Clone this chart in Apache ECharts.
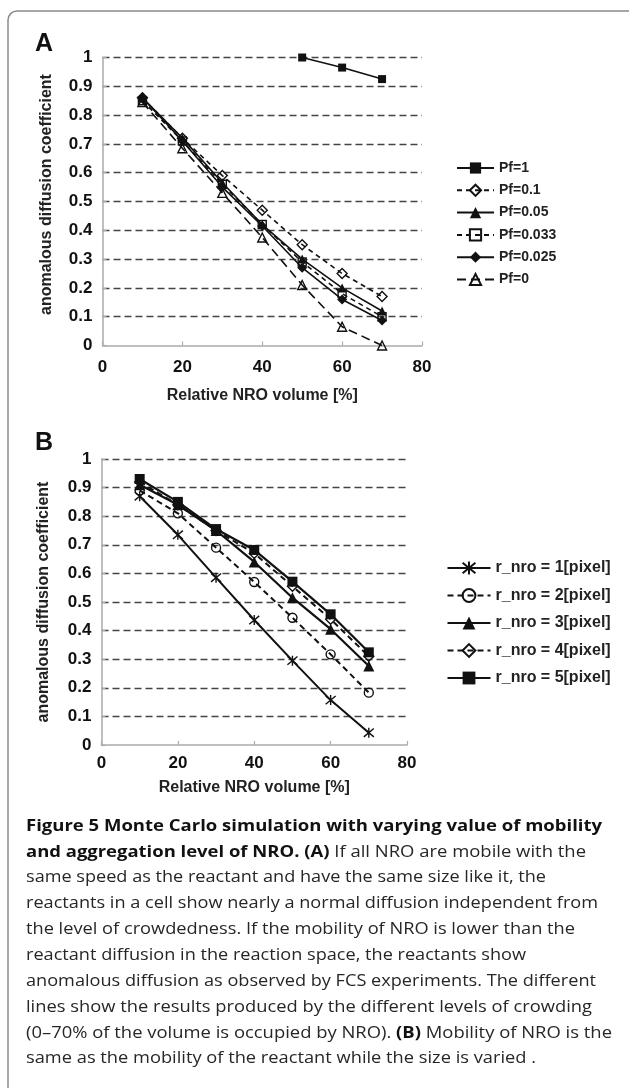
<!DOCTYPE html>
<html>
<head>
<meta charset="utf-8">
<script src="https://cdn.jsdelivr.net/npm/echarts@6/dist/echarts.min.js"></script>
<style>
html,body{margin:0;padding:0;background:#fff}
#c{width:629px;height:1088px}
</style>
</head>
<body>
<div id="c"></div>
<script>
// ---------------- DATA ----------------
const volume = [10, 20, 30, 40, 50, 60, 70];

// Panel A
const pfNames = ['Pf=1', 'Pf=0.1', 'Pf=0.05', 'Pf=0.033', 'Pf=0.025', 'Pf=0'];
const pf1     = [null, null, null, null, 1.0, 0.965, 0.925];
const pf01    = [0.86, 0.72, 0.59, 0.47, 0.35, 0.25, 0.17];
const pf005   = [0.86, 0.72, 0.565, 0.42, 0.30, 0.20, 0.12];
const pf0033  = [0.85, 0.71, 0.56, 0.42, 0.29, 0.18, 0.10];
const pf0025  = [0.86, 0.71, 0.55, 0.415, 0.27, 0.16, 0.087];
const pf0     = [0.845, 0.685, 0.53, 0.375, 0.21, 0.065, 0.0];

// Panel B
const rNames = ['r_nro = 1[pixel]', 'r_nro = 2[pixel]', 'r_nro = 3[pixel]', 'r_nro = 4[pixel]', 'r_nro = 5[pixel]'];
const r1 = [0.87, 0.735, 0.585, 0.437, 0.295, 0.157, 0.043];
const r2 = [0.89, 0.81, 0.69, 0.57, 0.445, 0.317, 0.183];
const r3 = [0.91, 0.84, 0.75, 0.64, 0.515, 0.405, 0.276];
const r4 = [0.92, 0.84, 0.75, 0.67, 0.555, 0.44, 0.31];
const r5 = [0.93, 0.85, 0.755, 0.682, 0.571, 0.457, 0.324];

// Axis texts
const xAxisTitle = 'Relative NRO volume [%]';
const yAxisTitle = 'anomalous diffusion coefficient';
const panelLetters = ['A', 'B'];

// Caption
const captionLines = [
  '{b|Figure 5 Monte Carlo simulation with varying value of mobility}',
  '{b|and aggregation level of NRO. (A)} If all NRO are mobile with the',
  'same speed as the reactant and have the same size like it, the',
  'reactants in a cell show nearly a normal diffusion independent from',
  'the level of crowdedness. If the mobility of NRO is lower than the',
  'reactant diffusion in the reaction space, the reactants show',
  'anomalous diffusion as observed by FCS experiments. The different',
  'lines show the results produced by the different levels of crowding',
  '(0\u201370% of the volume is occupied by NRO). {b|(B)} Mobility of NRO is the',
  'same as the mobility of the reactant while the size is varied .'
];

// ---------------- LAYOUT / STYLE ----------------
const captionWidths = [576, 560, 520, 572, 549, 500, 570, 566, 586, 510];
const FONT = '"Liberation Sans", Arial, Helvetica, sans-serif';
const CAP_FONT = '"Open Sans", sans-serif';
const CAP_SIZE = 16.8;
const INK = '#111';

function pairs(vals) {
  const out = [];
  vals.forEach((v, i) => { if (v !== null) out.push([volume[i], v]); });
  return out;
}

const asterisk = 'path://M0,0L10,10M10,0L0,10M5,-1L5,11';

function mkSeries(name, vals, grid, symbol, open, dash, size, width) {
  return {
    name: name,
    type: 'line',
    xAxisIndex: grid, yAxisIndex: grid,
    data: pairs(vals),
    symbol: symbol,
    symbolSize: size,
    showAllSymbol: true,
    animation: false,
    lineStyle: { color: INK, width: width, type: dash ? dash : 'solid' },
    itemStyle: open
      ? { color: 'rgba(255,255,255,0)', borderColor: INK, borderWidth: 1.4 }
      : { color: INK, borderColor: INK, borderWidth: 0 },
    emphasis: { disabled: true },
    z: 3
  };
}

const seriesA = [
  mkSeries(pfNames[0], pf1,    0, 'rect',     false, null,   8, 1.6),
  mkSeries(pfNames[1], pf01,   0, 'diamond',  true,  [5, 4], 10, 1.6),
  mkSeries(pfNames[2], pf005,  0, 'triangle', false, null,   9, 1.6),
  mkSeries(pfNames[3], pf0033, 0, 'rect',     true,  [5, 4], 8, 1.6),
  mkSeries(pfNames[4], pf0025, 0, 'diamond',  false, null,   10, 1.6),
  mkSeries(pfNames[5], pf0,    0, 'triangle', true,  [9, 5], 9, 1.6)
];
const seriesB = [
  Object.assign(mkSeries(rNames[0], r1, 1, asterisk, true, null, 10, 2), { itemStyle: { color: 'rgba(0,0,0,0)', borderColor: INK, borderWidth: 1.4 } }),
  mkSeries(rNames[1], r2, 1, 'circle',   true,  [6, 4], 9, 2),
  mkSeries(rNames[2], r3, 1, 'triangle', false, null,   11, 2.2),
  mkSeries(rNames[3], r4, 1, 'diamond',  true,  [6, 4], 10, 2),
  mkSeries(rNames[4], r5, 1, 'rect',     false, null,   10, 2.2)
];

function xAxisCfg(grid, margin, gap) {
  return {
    gridIndex: grid, type: 'value', min: 0, max: 80, interval: 20,
    axisLine: { show: true, onZero: false, lineStyle: { color: '#aaa', width: 1.5 } },
    axisTick: { show: true, inside: true, length: 4, lineStyle: { color: '#aaa', width: 1.2 } },
    axisLabel: { fontFamily: FONT, fontSize: 17, fontWeight: 'bold', color: INK, margin: margin },
    splitLine: { show: false },
    name: xAxisTitle, nameLocation: 'middle', nameGap: gap,
    nameTextStyle: { fontFamily: FONT, fontSize: 16, fontWeight: 'bold', color: '#222' }
  };
}
function yAxisCfg(grid, shift, gap, namePad) {
  return {
    gridIndex: grid, type: 'value', min: 0, max: 1, interval: 0.1,
    axisLine: { show: true, onZero: false, lineStyle: { color: '#aaa', width: 1.5 } },
    axisTick: { show: true, inside: true, length: 4, lineStyle: { color: '#aaa', width: 1.2 } },
    axisLabel: { fontFamily: FONT, fontSize: 17, fontWeight: 'bold', color: INK, margin: 10, padding: [shift, 0, 0, 0] },
    splitLine: { show: true, showMinLine: false, lineStyle: { type: [7, 4], color: '#444', width: 1.3 } },
    name: yAxisTitle, nameLocation: 'middle', nameGap: gap,
    nameTextStyle: { fontFamily: FONT, fontSize: 16, fontWeight: 'bold', color: '#222', padding: namePad }
  };
}

// caption graphic (per-line horizontal fit)
const mctx = document.createElement('canvas').getContext('2d');
function measureLine(line) {
  let w = 0;
  const re = /\{b\|([^}]*)\}|([^{]+)/g;
  let m;
  while ((m = re.exec(line)) !== null) {
    if (m[1] !== undefined) { mctx.font = 'bold ' + CAP_SIZE + 'px ' + CAP_FONT; w += mctx.measureText(m[1]).width; }
    else { mctx.font = CAP_SIZE + 'px ' + CAP_FONT; w += mctx.measureText(m[2]).width; }
  }
  return w;
}
const captionGraphics = captionLines.map((line, i) => {
  const nat = measureLine(line);
  const s = captionWidths[i] / nat;
  return {
    type: 'text', x: 26, y: 826 + i * 25.85, scaleX: s, scaleY: 1, silent: true,
    style: {
      text: line, x: 0, y: 0,
      fontFamily: CAP_FONT, fontSize: CAP_SIZE, fill: '#262626',
      verticalAlign: 'middle', align: 'left',
      rich: { b: { fontFamily: CAP_FONT, fontSize: CAP_SIZE, fontWeight: 'bold', fill: '#111' } }
    }
  };
});

const option = {
  backgroundColor: '#fff',
  animation: false,
  grid: [
    { left: 102.5, top: 57.5, width: 319.5, height: 288, containLabel: false },
    { left: 101.5, top: 459, width: 305.5, height: 286, containLabel: false }
  ],
  xAxis: [xAxisCfg(0, 13, 42), xAxisCfg(1, 10, 35)],
  yAxis: [yAxisCfg(0, 5, 48, [0, 0, 0, 14]), yAxisCfg(1, 9, 50, 0)],
  legend: [
    {
      data: pfNames, orient: 'vertical', left: 451, top: 156,
      itemWidth: 37, itemHeight: 14, itemGap: 8.3, selectedMode: false,
      textStyle: { fontFamily: FONT, fontSize: 14, fontWeight: 'bold', color: '#222', lineHeight: 14 }
    },
    {
      data: rNames, orient: 'vertical', left: 441.5, top: 555,
      itemWidth: 43, itemHeight: 16, itemGap: 11.5, selectedMode: false,
      textStyle: { fontFamily: FONT, fontSize: 16, fontWeight: 'bold', color: '#222', lineHeight: 16 }
    }
  ],
  graphic: [
    { type: 'rect', silent: true, z: -1,
      shape: { x: 8, y: 11, width: 660, height: 1120, r: 9 },
      style: { fill: 'none', stroke: '#8a8a8a', lineWidth: 1.5 } },
    { type: 'text', x: 35, y: 44, silent: true,
      style: { text: panelLetters[0], fontFamily: FONT, fontSize: 25, fontWeight: 'bold', fill: INK, verticalAlign: 'middle' } },
    { type: 'text', x: 35, y: 443, silent: true,
      style: { text: panelLetters[1], fontFamily: FONT, fontSize: 25, fontWeight: 'bold', fill: INK, verticalAlign: 'middle' } }
  ].concat(captionGraphics),
  series: seriesA.concat(seriesB)
};

const chart = echarts.init(document.getElementById('c'), null, { renderer: 'canvas' });
chart.setOption(option);
</script>
</body>
</html>
